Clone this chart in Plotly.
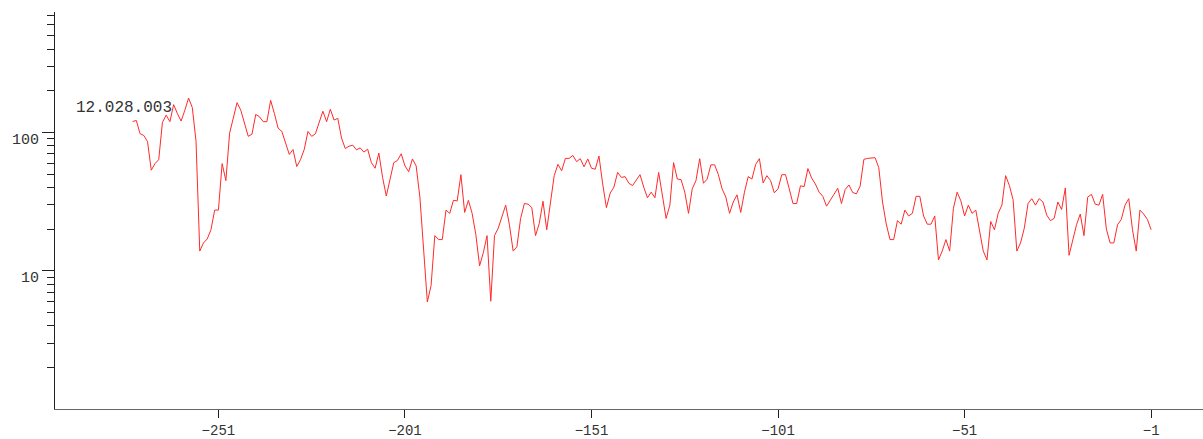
import plotly.graph_objects as go

# Daily values, oldest first; day offsets run from -274 up to -1
day_offsets = list(range(-274, 0))
values = [
    120, 122, 98, 95, 86, 53.3, 59.5, 63.6, 118.4, 133.4,
    119.7, 158.9, 137.1, 120.9, 144.7, 177.3, 151.3, 86.3, 13.87, 15.89,
    16.97, 19.78, 27.45, 27.45, 59.5, 44.85, 98.9, 127.8, 164.2, 144.7,
    116.4, 93.7, 97.3, 134.9, 129.9, 119.7, 119.7, 170.5, 137.1, 107.3,
    101.7, 83.9, 69.3, 75.2, 56.7, 63.6, 75.2, 101.7, 93.7, 97.7,
    119.7, 142.4, 119.7, 147.2, 122.9, 126.4, 91.1, 76.5, 79.5, 80.9,
    74.8, 77.3, 72.1, 75.7, 60.5, 55.1, 70.9, 47.3, 34.7, 46.8,
    60.5, 62.8, 70.1, 57.3, 52.0, 64.3, 57.3, 34.1, 13.49, 5.95,
    7.82, 17.94, 16.8, 16.8, 27.45, 25.97, 32.3, 31.96, 49.5, 26.4,
    32.3, 26.0, 18.23, 10.85, 13.49, 17.94, 6.02, 17.94, 20.3, 24.3,
    29.8, 21.5, 13.87, 14.88, 23.9, 30.6, 30.3, 28.6, 17.94, 22.0,
    31.8, 19.78, 29.8, 48.7, 58.8, 52.8, 64.9, 64.9, 68.2, 61.5,
    64.6, 56.4, 64.3, 55.1, 54.2, 67.5, 42.4, 28.6, 36.4, 40.2,
    51.4, 47.3, 47.9, 42.9, 41.3, 45.4, 49.5, 40.2, 33.7, 37.0,
    33.7, 51.4, 36.0, 23.9, 29.8, 60.5, 46.0, 45.6, 37.0, 26.0,
    39.1, 44.85, 64.6, 42.9, 46.0, 58.3, 58.3, 49.5, 39.1, 34.1,
    26.0, 31.4, 35.4, 26.4, 37.0, 47.9, 46.0, 58.8, 64.6, 43.1,
    48.7, 44.85, 36.6, 39.1, 49.5, 49.5, 39.1, 30.6, 30.6, 41.1,
    40.6, 54.8, 46.8, 42.4, 37.0, 34.5, 29.3, 32.0, 35.7, 39.5,
    30.6, 38.7, 41.7, 36.8, 36.0, 40.9, 63.9, 64.9, 64.9, 65.7,
    55.7, 31.4, 21.8, 16.8, 16.8, 23.0, 21.7, 27.45, 24.9, 26.0,
    34.5, 34.5, 24.9, 21.7, 21.7, 24.9, 11.97, 13.87, 16.8, 13.87,
    28.2, 37.0, 32.0, 24.9, 29.8, 26.0, 27.45, 19.6, 13.87, 11.97,
    22.7, 19.78, 26.0, 29.8, 48.7, 41.3, 32.6, 13.87, 15.89, 20.3,
    30.6, 33.2, 29.8, 33.2, 31.4, 25.3, 23.0, 23.9, 31.4, 27.7,
    39.7, 12.93, 16.3, 21.5, 25.7, 17.94, 34.1, 35.7, 30.3, 29.8,
    35.7, 20.0, 15.89, 15.89, 21.5, 23.5, 29.8, 33.2, 19.78, 13.87,
    27.45, 25.7, 23.5, 19.78,
]

# Axis ticks
x_tick_vals = [-251, -201, -151, -101, -51, -1]
y_major_vals = [10, 100]
y_major_text = ["10", "100"]
y_minor_vals = [m * d for d in (1, 10, 100) for m in range(2, 10)]

header_text = "12.028.003"

mono = "Liberation Mono"
ink = "#333333"

fig = go.Figure(
    go.Scatter(
        x=day_offsets,
        y=values,
        mode="lines",
        line=dict(color="#ff2a2a", width=1),
        hoverinfo="x+y",
    )
)

fig.update_layout(
    width=1203,
    height=439,
    margin=dict(l=55, r=0, t=12, b=23),
    paper_bgcolor="white",
    plot_bgcolor="white",
    showlegend=False,
    font=dict(family=mono, size=14, color=ink),
)

fig.update_xaxes(
    range=[-294.8, 12.9],
    tickvals=x_tick_vals,
    ticks="outside",
    ticklen=8,
    tickcolor="#222",
    showline=True,
    linecolor="#666",
    linewidth=1,
    showgrid=False,
    zeroline=False,
    tickfont=dict(family=mono, size=14, color=ink),
)

fig.update_yaxes(
    type="log",
    range=[0, 2.871],
    tickvals=y_major_vals,
    ticktext=y_major_text,
    ticks="outside",
    ticklen=12,
    tickcolor="#222",
    ticklabelshift=6,
    showline=True,
    linecolor="#222",
    linewidth=1,
    showgrid=False,
    zeroline=False,
    tickfont=dict(family=mono, size=15, color=ink),
    minor=dict(
        tickvals=y_minor_vals,
        ticks="outside",
        ticklen=7,
        tickcolor="#222",
        showgrid=False,
    ),
)

fig.add_annotation(
    text=header_text,
    xref="paper",
    yref="paper",
    x=(74 - 55) / 1148,
    y=(416 - 110) / 404,
    xanchor="left",
    yanchor="middle",
    showarrow=False,
    font=dict(family=mono, size=16, color=ink),
)

fig.write_html("out.html")
